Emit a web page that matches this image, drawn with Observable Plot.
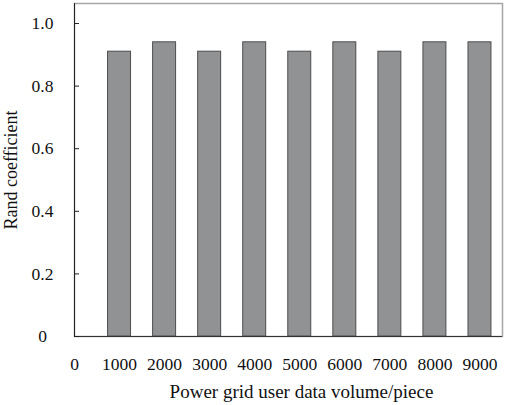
<!DOCTYPE html>
<html>
<head>
<meta charset="utf-8">
<script src="https://cdn.jsdelivr.net/npm/d3@7"></script>
<script src="https://cdn.jsdelivr.net/npm/@observablehq/plot@0.6"></script>
<style>
  html, body { margin: 0; padding: 0; background: #fff; }
  #chart svg { display: block; }
</style>
</head>
<body>
<div id="chart"></div>
<script>
const volumes = [1000, 2000, 3000, 4000, 5000, 6000, 7000, 8000, 9000];
const randCoef = [0.91, 0.94, 0.91, 0.94, 0.91, 0.94, 0.91, 0.94, 0.94];
const xTicks = [0, 1000, 2000, 3000, 4000, 5000, 6000, 7000, 8000, 9000];
const yTicks = [0, 0.2, 0.4, 0.6, 0.8, 1.0];

const data = volumes.map((v, i) => ({volume: v, value: randCoef[i]}));
const halfBar = 255;
const FS = 17.5;

const chart = Plot.plot({
  width: 509,
  height: 405,
  marginLeft: 74,
  marginRight: 7,
  marginTop: 3,
  marginBottom: 69,
  style: {fontFamily: "'Liberation Serif', 'Times New Roman', serif", fontSize: FS + "px", color: "#111", background: "#fff"},
  x: {domain: [0, 9500]},
  y: {domain: [0, 1.064]},
  marks: [
    Plot.frame({stroke: "#a6a6a6", strokeWidth: 1.5}),
    Plot.rect(data, {
      x1: d => d.volume - halfBar,
      x2: d => d.volume + halfBar,
      y1: 0,
      y2: "value",
      fill: "#909294",
      stroke: "#4d4d4d",
      strokeWidth: 1
    }),
    Plot.ruleX([0], {stroke: "#222", strokeWidth: 1}),
    Plot.ruleY([0], {stroke: "#333", strokeWidth: 1}),
    Plot.axisY({
      ticks: yTicks,
      tickSize: 5,
      dx: 5,
      text: null,
      stroke: "#222",
      label: null
    }),
    Plot.axisY({
      ticks: yTicks,
      tickSize: 0,
      tickPadding: 32,
      tickFormat: d => d === 0 ? "0" : d3.format(".1f")(d),
      textAnchor: "middle",
      fontSize: FS,
      label: null
    }),
    Plot.axisY({
      ticks: [],
      tickSize: 0,
      fontSize: 18,
      label: "Rand coefficient",
      labelAnchor: "center",
      labelArrow: "none",
      labelOffset: 70
    }),
    Plot.axisX({
      ticks: xTicks,
      tickSize: 0,
      tickPadding: 21,
      tickFormat: d => String(d),
      fontSize: FS,
      label: null
    }),
    Plot.text(["Power grid user data volume/piece"], {
      frameAnchor: "bottom",
      dy: 61,
      dx: 13,
      text: d => d,
      fontSize: 19
    })
  ]
});
document.getElementById("chart").appendChild(chart);
</script>
</body>
</html>
